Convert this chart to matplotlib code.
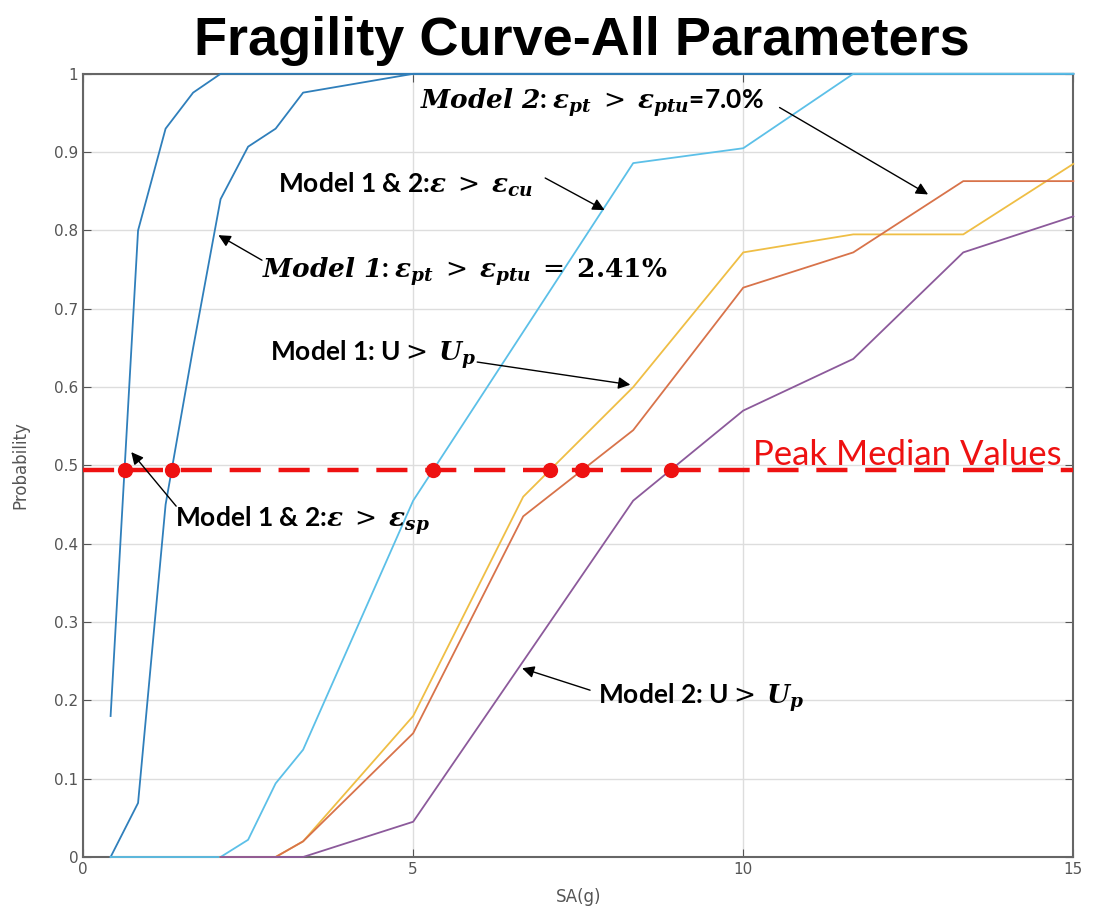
import numpy as np
import matplotlib
matplotlib.use("Agg")
import matplotlib.pyplot as plt

plt.rcParams['mathtext.fontset'] = 'dejavuserif'

# fragility curves, SA (g) vs probability of exceedance
sa_m12_sp = [0.417, 0.833, 1.25, 1.667, 2.083, 15.0]
p_m12_sp = [0.18, 0.80, 0.93, 0.976, 1.0, 1.0]

sa_m1_ptu = [0.417, 0.833, 1.25, 1.667, 2.083, 2.5, 2.917, 3.333, 5.0, 15.0]
p_m1_ptu = [0.0, 0.069, 0.45, 0.65, 0.84, 0.907, 0.93, 0.976, 1.0, 1.0]

sa_m12_cu = [0.417, 2.083, 2.5, 2.917, 3.333, 5.0, 8.333, 10.0, 11.667, 15.0]
p_m12_cu = [0.0, 0.0, 0.022, 0.094, 0.137, 0.455, 0.886, 0.905, 1.0, 1.0]

sa_m1_u = [2.083, 2.917, 3.333, 5.0, 6.667, 8.333, 10.0, 11.667, 13.333, 15.0]
p_m1_u = [0.0, 0.0, 0.02, 0.18, 0.46, 0.60, 0.772, 0.795, 0.795, 0.885]

sa_m2_ptu = [2.083, 2.917, 3.333, 5.0, 6.667, 8.333, 10.0, 11.667, 13.333, 15.0]
p_m2_ptu = [0.0, 0.0, 0.02, 0.158, 0.435, 0.545, 0.727, 0.772, 0.863, 0.863]

sa_m2_u = [2.083, 3.333, 5.0, 6.667, 8.333, 10.0, 11.667, 13.333, 15.0]
p_m2_u = [0.0, 0.0, 0.045, 0.25, 0.455, 0.57, 0.636, 0.772, 0.818]

median_p = 0.494

curves = [
    (sa_m12_sp, p_m12_sp, '#2f7fbb'),
    (sa_m1_ptu, p_m1_ptu, '#2f7fbb'),
    (sa_m12_cu, p_m12_cu, '#5cc0e8'),
    (sa_m1_u, p_m1_u, '#efbe45'),
    (sa_m2_ptu, p_m2_ptu, '#d8734a'),
    (sa_m2_u, p_m2_u, '#8c5a9b'),
]

fig = plt.figure(figsize=(10.93, 9.16), dpi=100)
ax = fig.add_axes([0.076, 0.0644, 0.906, 0.855])

for sa, p, col in curves:
    ax.plot(sa, p, color=col, lw=1.3, zorder=3, clip_on=False)

# median crossings on each curve (rising part only)
medians = []
for sa, p, col in curves:
    p = np.array(p)
    sa = np.array(sa)
    k = np.argmax(p >= median_p)
    medians.append(np.interp(median_p, p[k - 1:k + 1], sa[k - 1:k + 1]))

ax.plot([0, 15], [median_p, median_p], color='#ee1111', lw=3.2,
        dashes=(7, 4), zorder=4, clip_on=False)
ax.plot(medians, [median_p] * len(medians), 'o', color='#ee1111',
        ms=10, zorder=5)
ax.text(10.15, median_p + 0.006, 'Peak Median Values', color='#ee1111',
        fontsize=25, family='Lato', va='baseline')

ax.set_xlim(0, 15)
ax.set_ylim(0, 1)
ax.set_xticks([0, 5, 10, 15])
yt = np.round(np.arange(0, 1.01, 0.1), 1)
ax.set_yticks(yt)
ax.set_yticklabels(['0'] + ['%.1f' % v for v in yt[1:-1]] + ['1'])
ax.grid(True, color='#dddddd', lw=1)
ax.set_axisbelow(True)
ax.tick_params(direction='in', top=True, right=True, length=6,
               colors='#555555', labelsize=11, labelcolor='#555555')
for s in ax.spines.values():
    s.set_color('#666666')
    s.set_linewidth(1.5)
ax.set_xlabel('SA(g)', fontsize=12, color='#555555', labelpad=8)
ax.set_ylabel('Probability', fontsize=12, color='#555555', labelpad=18)

fig.suptitle('Fragility Curve-All Parameters', x=0.532, y=0.982, va='top',
             fontsize=39, fontweight='bold', family='Liberation Sans')

# curve labels: text anchor, arrow tail, arrow tip
notes = [
    (r'$\mathbfit{Model\ 2}$: $\mathbfit{\varepsilon_{pt}}\;>\;\mathbfit{\varepsilon_{ptu}}$=7.0%',
     (5.1, 0.963), (10.55, 0.957), (12.8, 0.846)),
    (r'Model 1 & 2:$\mathbfit{\varepsilon}\;>\;\mathbfit{\varepsilon_{cu}}$',
     (2.95, 0.858), (7.0, 0.867), (7.9, 0.826)),
    (r'$\mathbfit{Model\ 1}$: $\mathbfit{\varepsilon_{pt}}\;>\;\mathbfit{\varepsilon_{ptu}}\;=\;\mathbf{2.41\%}$',
     (2.71, 0.747), (2.71, 0.762), (2.05, 0.794)),
    (r'Model 1: U$>$ $\mathbfit{U_p}$',
     (2.83, 0.641), (5.97, 0.632), (8.29, 0.603)),
    (r'Model 1 & 2:$\mathbfit{\varepsilon}\;>\;\mathbfit{\varepsilon_{sp}}$',
     (1.39, 0.43), (1.41, 0.448), (0.73, 0.517)),
    (r'Model 2: U$>$ $\mathbfit{U_p}$',
     (7.8, 0.204), (7.68, 0.213), (6.65, 0.241)),
]
for txt, xy_text, xy_tail, xy_tip in notes:
    ax.text(xy_text[0], xy_text[1], txt, fontsize=19, fontweight='bold',
            family='Lato', va='center', ha='left', zorder=6)
    ax.annotate('', xy=xy_tip, xytext=xy_tail, zorder=6,
                arrowprops=dict(arrowstyle='-|>', color='black', lw=1,
                                mutation_scale=18, shrinkA=0, shrinkB=0))

fig.savefig('out.png', dpi=100)
